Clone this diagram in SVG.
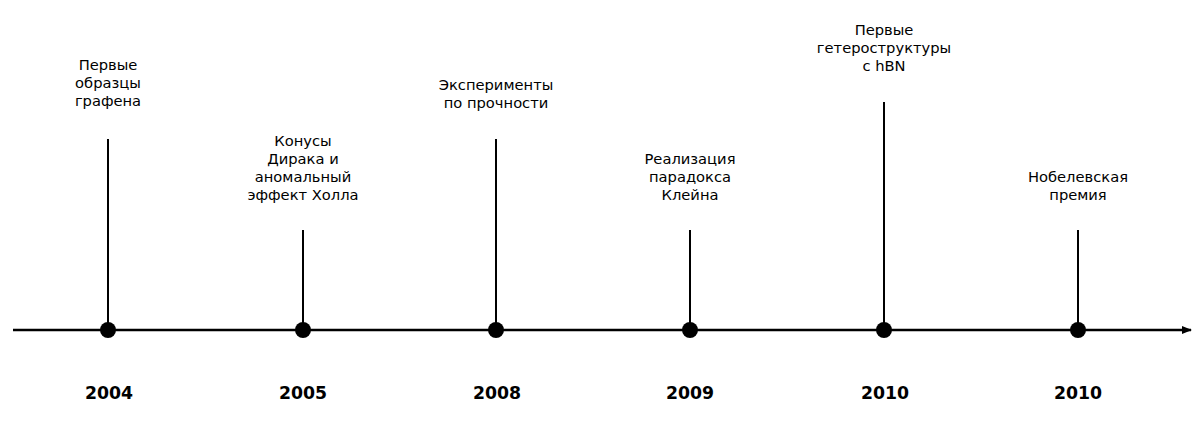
<svg xmlns="http://www.w3.org/2000/svg" width="1200" height="421" viewBox="0 0 1200 421">
<style>
.lbl{font-family:"DejaVu Sans",sans-serif;font-size:14.7px;fill:#000;text-anchor:middle}
.yr{font-family:"DejaVu Sans",sans-serif;font-size:17.3px;font-weight:bold;fill:#000;text-anchor:middle}
.stem{stroke:#000;stroke-width:2}
.dot{fill:#000}
</style>
<defs>
<marker id="arr" markerWidth="10" markerHeight="8" refX="9" refY="4" orient="auto" markerUnits="userSpaceOnUse">
<path d="M0,0 L10,4 L0,8 Z" fill="#000"/>
</marker>
</defs>
<rect width="1200" height="421" fill="#fff"/>
<g id="connectors">
<line x1="13" y1="330" x2="1191" y2="330" stroke="#000" stroke-width="2.5" marker-end="url(#arr)"/>
<line class="stem" x1="108" y1="139" x2="108" y2="330"/>
<line class="stem" x1="303" y1="230" x2="303" y2="330"/>
<line class="stem" x1="496" y1="139" x2="496" y2="330"/>
<line class="stem" x1="690" y1="230" x2="690" y2="330"/>
<line class="stem" x1="884" y1="102" x2="884" y2="330"/>
<line class="stem" x1="1078" y1="230" x2="1078" y2="330"/>
</g>
<g id="e2004">
<circle class="dot" cx="108" cy="330" r="8"/>
<text class="lbl" x="108" y="70">Первые</text>
<text class="lbl" x="108" y="88">образцы</text>
<text class="lbl" x="108" y="106">графена</text>
<text class="yr" x="109" y="399">2004</text>
</g>
<g id="e2005">
<circle class="dot" cx="303" cy="330" r="8"/>
<text class="lbl" x="303" y="146">Конусы</text>
<text class="lbl" x="303" y="164">Дирака и</text>
<text class="lbl" x="303" y="182">аномальный</text>
<text class="lbl" x="303" y="200">эффект Холла</text>
<text class="yr" x="303" y="399">2005</text>
</g>
<g id="e2008">
<circle class="dot" cx="496" cy="330" r="8"/>
<text class="lbl" x="496" y="90">Эксперименты</text>
<text class="lbl" x="496" y="108">по прочности</text>
<text class="yr" x="497" y="399">2008</text>
</g>
<g id="e2009">
<circle class="dot" cx="690" cy="330" r="8"/>
<text class="lbl" x="690" y="164">Реализация</text>
<text class="lbl" x="690" y="182">парадокса</text>
<text class="lbl" x="690" y="200">Клейна</text>
<text class="yr" x="690" y="399">2009</text>
</g>
<g id="e2010a">
<circle class="dot" cx="884" cy="330" r="8"/>
<text class="lbl" x="884" y="35">Первые</text>
<text class="lbl" x="884" y="53">гетероструктуры</text>
<text class="lbl" x="884" y="71">с hBN</text>
<text class="yr" x="885" y="399">2010</text>
</g>
<g id="e2010b">
<circle class="dot" cx="1078" cy="330" r="8"/>
<text class="lbl" x="1078" y="182">Нобелевская</text>
<text class="lbl" x="1078" y="200">премия</text>
<text class="yr" x="1078" y="399">2010</text>
</g>
</svg>
